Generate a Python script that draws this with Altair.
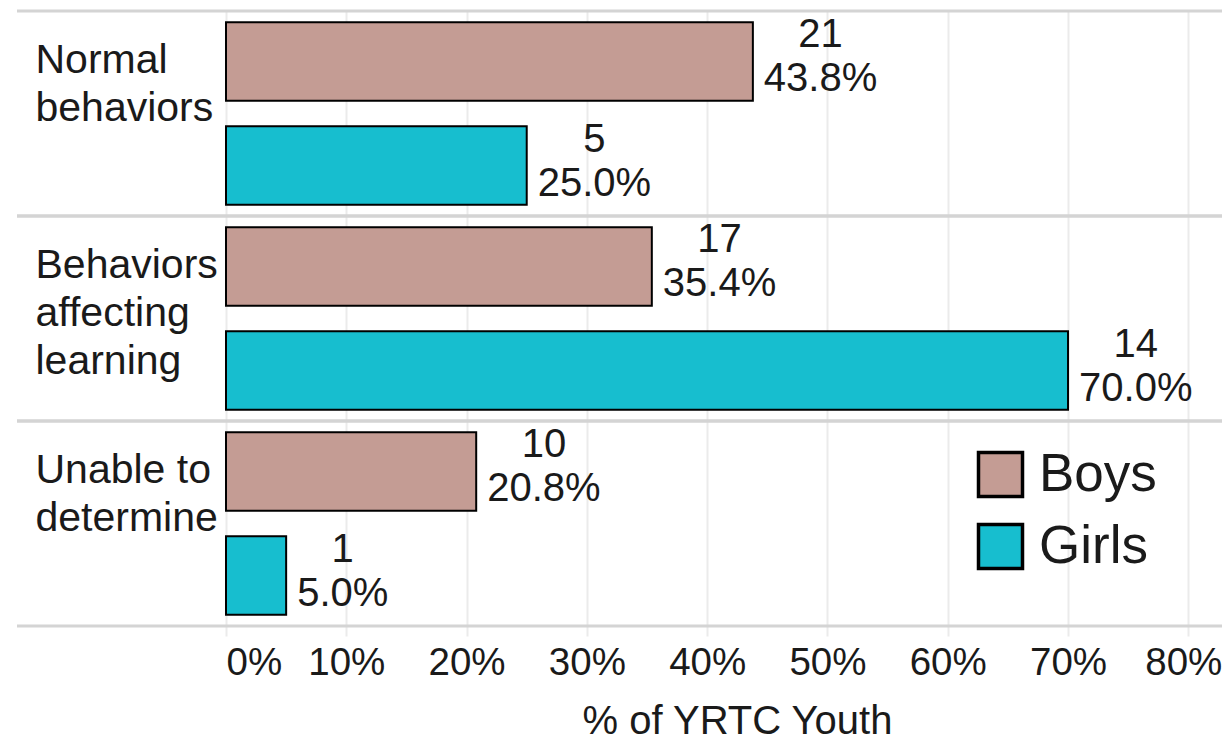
import altair as alt
import pandas as pd

categories = ["Normal\nbehaviors", "Behaviors\naffecting\nlearning", "Unable to\ndetermine"]
groups = ["Boys", "Girls"]
boys_counts = [21, 17, 10]
boys_pct = [0.438, 0.354, 0.208]
girls_counts = [5, 14, 1]
girls_pct = [0.250, 0.700, 0.050]
x_ticks = [0, 0.1, 0.2, 0.3, 0.4, 0.5, 0.6, 0.7, 0.8]

colors = ["#C49C94", "#17BECF"]
FONT = "Liberation Sans"
W, H = 996, 615
XMAX = 0.828

rows = []
for i, c in enumerate(categories):
    rows.append({"cat": c, "group": "Boys", "count": boys_counts[i], "pct": boys_pct[i]})
    rows.append({"cat": c, "group": "Girls", "count": girls_counts[i], "pct": girls_pct[i]})
df = pd.DataFrame(rows)
sep = pd.DataFrame({"cat": categories})

xscale = alt.Scale(domain=[0, XMAX], nice=False, zero=True)
yscale = alt.Scale(domain=categories, paddingInner=0, paddingOuter=0)
yoff_scale = alt.Scale(domain=groups, paddingInner=0.243, paddingOuter=0.107)

base = alt.Chart(df)

bars = base.mark_bar(stroke="black", strokeWidth=2).encode(
    x=alt.X("pct:Q", scale=xscale,
            axis=alt.Axis(values=x_ticks, format=".0%", title="% of YRTC Youth",
                          grid=True, gridColor="#ebebeb", gridWidth=2,
                          ticks=True, tickColor="#ebebeb", tickWidth=2, tickSize=10,
                          domain=False, labelFlush=True, labelFontSize=38.5,
                          labelOffset={"condition": {"test": "datum.value >= 0.8", "value": -5},
                                       "value": 0},
                          labelBaseline="alphabetic", labelPadding=38,
                          labelColor="#1a1a1a", titleFontSize=40, titleFontWeight="normal",
                          titleColor="#1a1a1a", titleBaseline="alphabetic",
                          titleX=511, titleY=107)),
    y=alt.Y("cat:N", scale=yscale, sort=categories,
            axis=alt.Axis(title=None, labelAlign="left",
                          labelBaseline="alphabetic", labelOffset=-41,
                          labelPadding=191, ticks=False, domain=False, grid=False,
                          labelFontSize=41, labelLineHeight=48, labelLimit=0,
                          labelColor="#1a1a1a",
                          labelExpr="split(datum.label, '\\n')")),
    yOffset=alt.YOffset("group:N", scale=yoff_scale, sort=groups),
    color=alt.Color("group:N", scale=alt.Scale(domain=groups, range=colors),
                    legend=alt.Legend(title=None, orient="none", legendX=748, legendY=437,
                                      symbolType="square", symbolSize=1936,
                                      symbolStrokeColor="black", symbolStrokeWidth=3.5,
                                      labelFontSize=53, labelOffset=12, rowPadding=13,
                                      padding=0, labelColor="#1a1a1a")),
)

sep_top = alt.Chart(sep).mark_rule(color="#d4d4d4", strokeWidth=3).encode(
    y=alt.Y("cat:N", scale=yscale, sort=categories, bandPosition=0),
    x=alt.value(-209), x2=alt.value(W),
)
sep_bot = alt.Chart(sep).mark_rule(color="#d4d4d4", strokeWidth=3).encode(
    y=alt.Y("cat:N", scale=yscale, sort=categories, bandPosition=1),
    x=alt.value(-209), x2=alt.value(W),
)

ppu = W / XMAX
count_text = base.transform_calculate(
    xc=f"datum.pct + (11 + ((length(format(datum.pct, '.1%')) - 2) * 22.24 + 46.68) / 2) / {ppu}",
).mark_text(align="center", baseline="alphabetic", dy=-14, fontSize=40, color="#1a1a1a").encode(
    x=alt.X("xc:Q", scale=xscale),
    y=alt.Y("cat:N", scale=yscale, sort=categories),
    yOffset=alt.YOffset("group:N", scale=yoff_scale, sort=groups),
    text=alt.Text("count:Q", format="d"),
)
pct_text = base.mark_text(align="left", baseline="alphabetic", dx=11, dy=30, fontSize=40,
                          color="#1a1a1a").encode(
    x=alt.X("pct:Q", scale=xscale),
    y=alt.Y("cat:N", scale=yscale, sort=categories),
    yOffset=alt.YOffset("group:N", scale=yoff_scale, sort=groups),
    text=alt.Text("pct:Q", format=".1%"),
)

chart = alt.layer(sep_top, sep_bot, bars, count_text, pct_text).properties(
    width=W, height=H,
    autosize=alt.AutoSizeParams(type="none"),
    padding={"left": 218, "top": 3, "right": 0, "bottom": 117},
).configure(font=FONT).configure_view(stroke=None).configure_axis(
    labelFont=FONT, titleFont=FONT
).configure_legend(labelFont=FONT)

chart.save("out.html", embed_options={"renderer": "svg", "actions": False})
